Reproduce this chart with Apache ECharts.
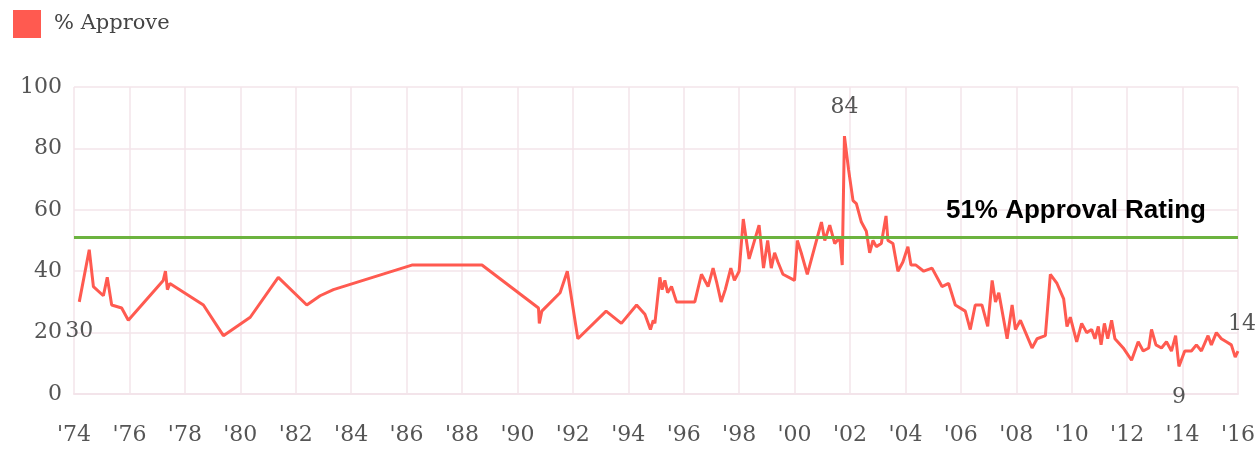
<!DOCTYPE html>
<html>
<head>
<meta charset="utf-8">
<script src="https://cdn.jsdelivr.net/npm/echarts@6/dist/echarts.min.js"></script>
<style>
  html, body { margin: 0; padding: 0; background: #fff; }
  #chart_approval { width: 1258px; height: 457px; }
</style>
</head>
<body>
<div id="chart_approval"></div>
<script>
// survey dates (decimal year) and % approve
const years = [
    1974.19, 1974.55, 1974.7, 1975.06, 1975.2, 1975.36, 1975.72, 1975.96,
    1977.22, 1977.3, 1977.37, 1977.46, 1978.67, 1979.39, 1980.36, 1981.37,
    1982.4, 1982.88, 1983.36, 1986.19, 1988.72, 1990.76, 1990.79, 1990.88,
    1991.54, 1991.8, 1992.18, 1993.2, 1993.75, 1994.3, 1994.6, 1994.8,
    1994.9, 1994.96, 1995.14, 1995.22, 1995.32, 1995.42, 1995.56, 1995.74,
    1996.4, 1996.64, 1996.88, 1997.06, 1997.2, 1997.35, 1997.5, 1997.7,
    1997.83, 1998.0, 1998.15, 1998.36, 1998.72, 1998.88, 1999.03, 1999.16,
    1999.28, 1999.4, 1999.58, 2000.0, 2000.1, 2000.24, 2000.46, 2000.97,
    2001.09, 2001.27, 2001.45, 2001.63, 2001.72, 2001.8, 2001.95, 2002.11,
    2002.23, 2002.41, 2002.59, 2002.71, 2002.83, 2002.95, 2003.13, 2003.3,
    2003.37, 2003.55, 2003.73, 2003.91, 2004.09, 2004.2, 2004.38, 2004.66,
    2004.96, 2005.32, 2005.56, 2005.8, 2006.16, 2006.34, 2006.52, 2006.76,
    2006.97, 2007.13, 2007.25, 2007.37, 2007.67, 2007.85, 2007.97, 2008.15,
    2008.57, 2008.75, 2009.05, 2009.23, 2009.47, 2009.71, 2009.83, 2009.95,
    2010.18, 2010.36, 2010.54, 2010.72, 2010.84, 2010.96, 2011.06, 2011.18,
    2011.3, 2011.44, 2011.56, 2011.86, 2012.16, 2012.4, 2012.58, 2012.78,
    2012.88, 2013.04, 2013.24, 2013.42, 2013.6, 2013.75, 2013.87, 2014.08,
    2014.32, 2014.5, 2014.68, 2014.92, 2015.04, 2015.22, 2015.4, 2015.58,
    2015.76, 2015.9, 2016.0
];
const approve = [
    30, 47, 35, 32, 38, 29, 28, 24,
    37, 40, 34, 36, 29, 19, 25, 38,
    29, 32, 34, 42, 42, 28, 23, 27,
    33, 40, 18, 27, 23, 29, 26, 21,
    24, 23, 38, 34, 37, 33, 35, 30,
    30, 39, 35, 41, 36, 30, 34, 41,
    37, 40, 57, 44, 55, 41, 50, 41,
    46, 43, 39, 37, 50, 46, 39, 56,
    50, 55, 49, 51, 42, 84, 73, 63,
    62, 56, 53, 46, 50, 48, 49, 58,
    50, 49, 40, 43, 48, 42, 42, 40,
    41, 35, 36, 29, 27, 21, 29, 29,
    22, 37, 30, 33, 18, 29, 21, 24,
    15, 18, 19, 39, 36, 31, 22, 25,
    17, 23, 20, 21, 18, 22, 16, 23,
    18, 24, 18, 15, 11, 17, 14, 15,
    21, 16, 15, 17, 14, 19, 9, 14,
    14, 16, 14, 19, 16, 20, 18, 17,
    16, 12, 14
];
const seriesName = '% Approve';
const referenceValue = 51;
const referenceLabel = '51% Approval Rating';
const yTicks = [0, 20, 40, 60, 80, 100];

const serif = '"DejaVu Serif", "Liberation Serif", serif';
const gridColor = '#f3e4ea';
const textColor = '#555';
const red = '#ff5a50';

function getOptionApproval() {
    const last = years.length - 1;
    return {
        backgroundColor: '#fff',
        animation: false,
        legend: {
            show: true,
            left: 8,
            top: 5,
            icon: 'rect',
            itemWidth: 28,
            itemHeight: 28,
            textStyle: {
                fontFamily: serif,
                fontSize: 21,
                color: '#444',
                padding: [0, 0, 0, 8]
            }
        },
        grid: {
            left: 74,
            right: 18,
            top: 87,
            bottom: 63
        },
        xAxis: {
            type: 'value',
            min: 1974,
            max: 2016,
            interval: 2,
            axisLine: { show: true, lineStyle: { color: gridColor, width: 2 } },
            axisTick: { show: false },
            axisLabel: {
                margin: 30,
                fontFamily: serif,
                fontSize: 22,
                color: textColor,
                formatter: v => "'" + String(v).slice(2)
            },
            splitLine: { lineStyle: { color: gridColor, width: 1.5 } }
        },
        yAxis: {
            type: 'value',
            min: yTicks[0],
            max: yTicks[yTicks.length - 1],
            interval: yTicks[1] - yTicks[0],
            axisLine: { show: false },
            axisTick: { show: false },
            axisLabel: {
                margin: 12,
                fontFamily: serif,
                fontSize: 22,
                color: textColor
            },
            splitLine: { lineStyle: { color: gridColor, width: 1.5 } }
        },
        series: [
            {
                name: seriesName,
                type: 'line',
                showSymbol: false,
                silent: true,
                color: red,
                lineStyle: { color: red, width: 3 },
                data: years.map((y, i) => [y, approve[i]]),
                markPoint: {
                    symbol: 'circle',
                    symbolSize: 0,
                    silent: true,
                    label: {
                        show: true,
                        fontFamily: serif,
                        fontSize: 22,
                        color: textColor,
                        formatter: '{c}'
                    },
                    data: [
                        { coord: [years[0], approve[0]], value: approve[0], label: { position: 'bottom', distance: 18 } },
                        { type: 'max', label: { position: 'top', distance: 18 } },
                        { type: 'min', label: { position: 'bottom', distance: 20 } },
                        { coord: [years[last], approve[last]], value: approve[last], label: { position: 'top', distance: 16, offset: [4, 0] } }
                    ]
                },
                markLine: {
                    silent: true,
                    symbol: 'none',
                    lineStyle: { color: '#6cb33f', width: 3, type: 'solid' },
                    label: {
                        show: true,
                        position: 'insideEndTop',
                        distance: [32, 14],
                        formatter: referenceLabel,
                        fontFamily: '"Liberation Sans", Arial, sans-serif',
                        fontWeight: 'bold',
                        fontSize: 26,
                        color: '#000'
                    },
                    data: [{ yAxis: referenceValue }]
                }
            }
        ]
    };
}

const chart = echarts.init(document.getElementById('chart_approval'), null, { renderer: 'canvas' });
chart.setOption(getOptionApproval());
</script>
</body>
</html>
